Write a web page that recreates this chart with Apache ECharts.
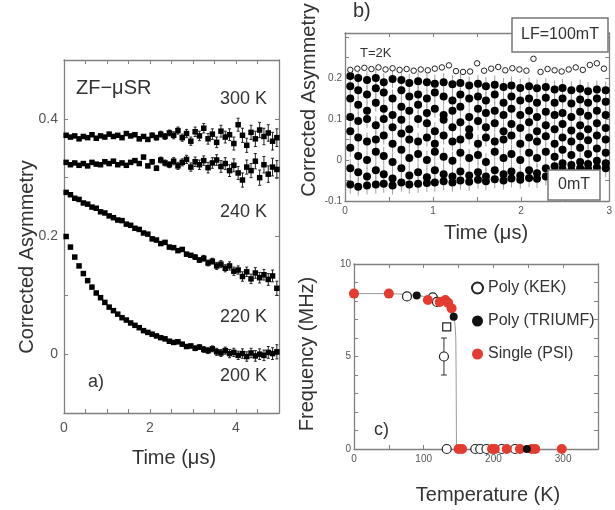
<!DOCTYPE html>
<html><head><meta charset="utf-8">
<script src="https://cdn.jsdelivr.net/npm/echarts@6/dist/echarts.min.js"></script>
<style>html,body{margin:0;padding:0;background:#fff}#c{width:615px;height:510px}</style>
</head><body><div id="c"></div>
<script>
// ---------- Panel a) ZF-muSR asymmetry vs time ----------
const timeA = [0.05,0.15,0.25,0.35,0.45,0.55,0.65,0.75,0.85,0.95,1.05,1.15,1.25,1.35,1.45,1.55,1.65,1.75,1.85,1.95,2.05,2.15,2.25,2.35,2.45,2.55,2.65,2.75,2.85,2.95,3.05,3.15,3.25,3.35,3.45,3.55,3.65,3.75,3.85,3.95,4.05,4.15,4.25,4.35,4.45,4.55,4.65,4.75,4.85,4.95];
const asym300K = [0.372,0.369,0.371,0.366,0.370,0.368,0.373,0.367,0.371,0.369,0.374,0.370,0.372,0.368,0.375,0.371,0.373,0.366,0.370,0.365,0.372,0.368,0.374,0.370,0.376,0.372,0.380,0.368,0.375,0.362,0.378,0.371,0.384,0.366,0.374,0.360,0.379,0.369,0.373,0.358,0.390,0.372,0.355,0.377,0.366,0.381,0.370,0.376,0.362,0.368];
const asym240K = [0.326,0.322,0.325,0.321,0.324,0.320,0.326,0.323,0.322,0.327,0.324,0.328,0.322,0.325,0.321,0.326,0.329,0.324,0.335,0.320,0.327,0.316,0.330,0.325,0.322,0.328,0.320,0.326,0.331,0.318,0.327,0.322,0.329,0.317,0.325,0.330,0.319,0.324,0.312,0.321,0.308,0.296,0.318,0.312,0.328,0.300,0.322,0.306,0.318,0.314];
const asym220K = [0.275,0.271,0.265,0.263,0.257,0.255,0.250,0.248,0.242,0.240,0.235,0.232,0.228,0.227,0.221,0.219,0.214,0.212,0.206,0.204,0.196,0.194,0.188,0.190,0.182,0.181,0.176,0.178,0.170,0.168,0.165,0.160,0.163,0.155,0.158,0.150,0.153,0.146,0.150,0.141,0.143,0.132,0.140,0.128,0.138,0.130,0.135,0.127,0.133,0.112];
const asym200K = [0.200,0.182,0.165,0.150,0.137,0.125,0.114,0.104,0.096,0.088,0.080,0.074,0.068,0.062,0.058,0.053,0.049,0.045,0.040,0.037,0.034,0.031,0.028,0.026,0.022,0.020,0.021,0.017,0.013,0.014,0.010,0.012,0.008,0.006,0.009,0.004,0.002,0.006,0.001,0.003,-0.002,0.001,-0.004,0.002,-0.003,0.000,-0.002,0.003,0.001,0.004];
const errHighT = [0.002,0.002,0.002,0.002,0.002,0.002,0.002,0.002,0.002,0.002,0.003,0.003,0.003,0.003,0.003,0.003,0.003,0.003,0.003,0.003,0.004,0.004,0.005,0.005,0.005,0.006,0.006,0.006,0.007,0.007,0.008,0.008,0.008,0.009,0.009,0.009,0.010,0.010,0.010,0.011,0.011,0.012,0.012,0.012,0.013,0.013,0.014,0.014,0.015,0.015];
const errLowT = [0.002,0.002,0.002,0.002,0.002,0.002,0.002,0.002,0.002,0.002,0.002,0.002,0.002,0.002,0.002,0.002,0.002,0.002,0.002,0.002,0.003,0.003,0.003,0.003,0.003,0.003,0.003,0.003,0.003,0.003,0.004,0.004,0.005,0.005,0.005,0.006,0.006,0.006,0.007,0.007,0.007,0.008,0.008,0.008,0.009,0.009,0.009,0.010,0.010,0.012];

// ---------- Panel b) T=2K, LF=100mT and 0mT ----------
const timeLF = [0.06,0.14,0.22,0.30,0.38,0.46,0.54,0.62,0.70,0.78,0.86,0.94,1.02,1.10,1.18,1.26,1.34,1.42,1.50,1.58,1.66,1.74,1.82,1.90,1.98,2.06,2.14,2.22,2.30,2.38,2.46,2.54,2.62,2.70,2.78,2.86,2.94];
const asymLF = [0.220,0.223,0.225,0.222,0.226,0.221,0.224,0.220,0.222,0.218,0.221,0.219,0.223,0.226,0.231,0.217,0.215,0.216,0.236,0.218,0.223,0.227,0.219,0.224,0.221,0.218,0.247,0.215,0.222,0.219,0.216,0.221,0.226,0.220,0.232,0.236,0.223];
const timeZF = [0.06,0.15,0.25,0.35,0.44,0.54,0.64,0.73,0.83,0.93,1.02,1.12,1.22,1.31,1.41,1.51,1.60,1.70,1.80,1.89,1.99,2.09,2.18,2.28,2.38,2.47,2.57,2.67,2.76,2.86,2.96];
const asymZF = [
 [0.205,0.180,0.150,0.105,0.070,0.030,-0.020,-0.060],
 [0.200,0.170,0.135,0.095,0.055,0.010,-0.030,-0.065],
 [0.195,0.160,0.120,0.100,0.045,0.000,-0.040,-0.062],
 [0.200,0.175,0.140,0.085,0.050,0.020,-0.025,-0.060],
 [0.190,0.165,0.125,0.100,0.060,0.010,-0.035,-0.058],
 [0.198,0.150,0.110,0.080,0.040,-0.005,-0.045,-0.062],
 [0.195,0.170,0.130,0.098,0.065,0.025,-0.020,-0.055],
 [0.188,0.155,0.120,0.075,0.050,0.005,-0.038,-0.060],
 [0.192,0.160,0.135,0.100,0.045,0.015,-0.030,-0.058],
 [0.190,0.150,0.115,0.090,0.055,0.000,-0.042,-0.056],
 [0.186,0.165,0.125,0.070,0.040,0.020,-0.025,-0.055],
 [0.190,0.155,0.110,0.098,0.060,0.008,-0.035,-0.052],
 [0.185,0.145,0.120,0.080,0.045,-0.002,-0.040,-0.055],
 [0.188,0.160,0.130,0.092,0.050,0.018,-0.028,-0.050],
 [0.182,0.150,0.105,0.075,0.060,0.005,-0.038,-0.053],
 [0.186,0.155,0.125,0.095,0.040,0.012,-0.030,-0.048],
 [0.180,0.145,0.115,0.080,0.055,-0.005,-0.040,-0.052],
 [0.184,0.160,0.120,0.090,0.045,0.020,-0.025,-0.047],
 [0.178,0.140,0.110,0.070,0.050,0.005,-0.035,-0.050],
 [0.182,0.155,0.125,0.088,0.060,0.015,-0.028,-0.045],
 [0.176,0.145,0.110,0.078,0.040,0.000,-0.038,-0.048],
 [0.180,0.150,0.120,0.092,0.055,0.018,-0.025,-0.044],
 [0.175,0.140,0.105,0.070,0.045,0.005,-0.032,-0.046],
 [0.178,0.152,0.118,0.085,0.058,0.020,-0.020,-0.040],
 [0.172,0.140,0.110,0.075,0.040,0.008,-0.015,-0.030],
 [0.176,0.150,0.115,0.088,0.055,0.025,-0.008,-0.022],
 [0.170,0.138,0.105,0.072,0.045,0.012,-0.012,-0.025],
 [0.174,0.148,0.118,0.085,0.058,0.030,-0.005,-0.020],
 [0.168,0.140,0.108,0.075,0.048,0.015,-0.010,-0.022],
 [0.172,0.150,0.120,0.090,0.060,0.028,-0.002,-0.018],
 [0.170,0.142,0.110,0.078,0.050,0.018,-0.008,-0.020]
];
const errZF = 0.022;

// ---------- Panel c) frequency vs temperature ----------
const kekT = [76,113,119,129,174,181,190,212,231,133];
const kekF = [8.25,8.2,7.95,5.0,0,0,0,0,0,0];
const kekErr = [0,0,0,1.0,0,0,0,0,0,0];
const kekSquareT = [133];
const kekSquareF = [6.6];
const triumfT = [90,143,248];
const triumfF = [8.3,7.15,0];
const psiT = [0,50,106,123,131,135,140,150,155,198,202,219,238,255,260,298];
const psiF = [8.4,8.4,8.05,7.95,8.05,7.9,7.6,0,0,0,0,0,0,0,0,0];
const fitT = [0,50,80,100,115,125,132,137,141,143.5,145,146,146.5,147];
const fitF = [8.4,8.4,8.35,8.25,8.1,7.95,7.8,7.6,7.35,7.1,6.7,6.0,4.0,0];

// ---------- build ----------
const FONT = '"Liberation Sans", Arial, Helvetica, sans-serif';
const AXC = '#808080';
function ax(grid, pos, min, max, interval, fmt, size, margin) {
  return {
    type: 'value', gridIndex: grid, position: pos, min: min, max: max, interval: interval,
    axisLine: {show: true, onZero: false, lineStyle: {color: AXC, width: 1.3}},
    axisTick: {show: true, inside: true, length: 4, lineStyle: {color: AXC, width: 1}},
    axisLabel: fmt ? {show: true, formatter: fmt, fontSize: size, color: '#555', margin: margin, fontFamily: FONT} : {show: false},
    splitLine: {show: false}
  };
}
const fmtAx = v => (Math.abs(v % 2) < 1e-6 ? String(v) : '');
const fmtAy = v => { const r = Math.round(v * 10); return r === 0 ? '0' : (r === 2 ? '0.2' : (r === 4 ? '0.4' : '')); };
const fmtBx = v => (Math.abs(v - Math.round(v)) < 1e-6 ? String(Math.round(v)) : '');
const fmtBy = v => { const r = Math.round(v * 100); if (r % 10 !== 0 || r === 30) return ''; return r === 0 ? '0' : (r / 100).toFixed(1); };
const fmtCx = v => (v % 100 === 0 ? String(v) : '');
const fmtCy = v => (v % 5 === 0 ? String(v) : '');

function errRender(color, cap) {
  return function (params, api) {
    const x = api.value(0), lo = api.value(1), hi = api.value(2);
    const a = api.coord([x, lo]), b = api.coord([x, hi]);
    const st = {stroke: color, lineWidth: 1};
    const ch = [{type: 'line', shape: {x1: a[0], y1: a[1], x2: b[0], y2: b[1]}, style: st}];
    if (cap) {
      ch.push({type: 'line', shape: {x1: a[0] - cap, y1: a[1], x2: a[0] + cap, y2: a[1]}, style: st});
      ch.push({type: 'line', shape: {x1: b[0] - cap, y1: b[1], x2: b[0] + cap, y2: b[1]}, style: st});
    }
    return {type: 'group', children: ch};
  };
}
function errData(ts, vs, es) { return ts.map((t, i) => [t, vs[i] - es[i], vs[i] + es[i]]); }
function pts(ts, vs) { return ts.map((t, i) => [t, vs[i]]); }

const seriesA = [];
[[asym300K, errHighT], [asym240K, errHighT], [asym220K, errLowT], [asym200K, errLowT]].forEach(([vals, errs]) => {
  seriesA.push({type: 'custom', xAxisIndex: 0, yAxisIndex: 0, renderItem: errRender('#222', 1.5), data: errData(timeA, vals, errs), encode: {x: 0, y: [1, 2]}, z: 2});
  seriesA.push({type: 'scatter', xAxisIndex: 0, yAxisIndex: 0, symbol: 'rect', symbolSize: 5.5, itemStyle: {color: '#000', opacity: 1}, data: pts(timeA, vals), z: 3});
});

const zfPts = [], zfErr = [];
timeZF.forEach((t, k) => asymZF[k].forEach(v => { zfPts.push([t, v]); zfErr.push([t, v - errZF, v + errZF]); }));

const seriesB = [
  {type: 'custom', xAxisIndex: 2, yAxisIndex: 2, renderItem: errRender('#a0a0a0', 0), data: zfErr, encode: {x: 0, y: [1, 2]}, z: 2},
  {type: 'scatter', xAxisIndex: 2, yAxisIndex: 2, symbol: 'circle', symbolSize: 8, itemStyle: {color: '#000', opacity: 1}, data: zfPts, z: 3},
  {type: 'scatter', xAxisIndex: 2, yAxisIndex: 2, symbol: 'circle', symbolSize: 5.5, itemStyle: {color: '#fff', borderColor: '#222', borderWidth: 1, opacity: 1}, data: pts(timeLF, asymLF), z: 4}
];

const seriesC = [
  {type: 'line', xAxisIndex: 4, yAxisIndex: 4, data: pts(fitT, fitF), showSymbol: false, symbol: 'none', lineStyle: {color: '#9a9a9a', width: 1}, z: 1, silent: true},
  {type: 'custom', xAxisIndex: 4, yAxisIndex: 4, renderItem: errRender('#333', 3), data: errData(kekT, kekF, kekErr).filter((d, i) => kekErr[i] > 0), encode: {x: 0, y: [1, 2]}, z: 2},
  {name: 'Poly (KEK)', type: 'scatter', xAxisIndex: 4, yAxisIndex: 4, symbol: 'circle', symbolSize: 9, itemStyle: {color: '#fff', borderColor: '#222', borderWidth: 1.2, opacity: 1}, data: pts(kekT, kekF), z: 3},
  {type: 'scatter', xAxisIndex: 4, yAxisIndex: 4, symbol: 'rect', symbolSize: 8, itemStyle: {color: '#fff', borderColor: '#222', borderWidth: 1.2, opacity: 1}, data: pts(kekSquareT, kekSquareF), z: 3},
  {name: 'Single (PSI)', type: 'scatter', xAxisIndex: 4, yAxisIndex: 4, symbol: 'circle', symbolSize: 10, itemStyle: {color: '#e53a2f', opacity: 1}, data: pts(psiT, psiF), z: 4},
  {name: 'Poly (TRIUMF)', type: 'scatter', xAxisIndex: 4, yAxisIndex: 4, symbol: 'circle', symbolSize: 8, itemStyle: {color: '#111', opacity: 1}, data: pts(triumfT, triumfF), z: 5}
];

function txt(x, y, s, size, opts) {
  return Object.assign({type: 'text', x: x, y: y, z: 100, style: Object.assign({text: s, font: size + 'px ' + FONT, fill: '#333', textAlign: 'left', textVerticalAlign: 'middle'}, opts || {})});
}
function vtxt(x, y, s, size) {
  return {type: 'text', x: x, y: y, rotation: Math.PI / 2, z: 100, style: {text: s, font: size + 'px ' + FONT, fill: '#333', textAlign: 'center', textVerticalAlign: 'middle'}};
}

const chart = echarts.init(document.getElementById('c'), null, {renderer: 'canvas'});
chart.setOption({
  animation: false,
  backgroundColor: '#fff',
  grid: [
    {left: 64, top: 60, width: 215, height: 353},
    {left: 345, top: 33, width: 265, height: 168},
    {left: 354, top: 264, width: 244, height: 185}
  ],
  xAxis: [
    ax(0, 'bottom', 0, 5, 0.5, fmtAx, 14, 8), ax(0, 'top', 0, 5, 0.5, null),
    ax(1, 'bottom', 0, 3, 0.5, fmtBx, 10, 5), ax(1, 'top', 0, 3, 0.5, null),
    ax(2, 'bottom', 0, 350, 50, fmtCx, 10, 5), ax(2, 'top', 0, 350, 50, null)
  ],
  yAxis: [
    ax(0, 'left', -0.1, 0.5, 0.1, fmtAy, 14, 6), ax(0, 'right', -0.1, 0.5, 0.1, null),
    ax(1, 'left', -0.1, 0.31, 0.05, fmtBy, 10, 3), ax(1, 'right', -0.1, 0.31, 0.05, null),
    ax(2, 'left', 0, 10, 1, fmtCy, 10, 3), ax(2, 'right', 0, 10, 1, null)
  ],
  legend: {
    data: ['Poly (KEK)', 'Poly (TRIUMF)', 'Single (PSI)'],
    orient: 'vertical', left: 466, top: 275, itemGap: 17, itemWidth: 11, itemHeight: 11,
    textStyle: {fontSize: 16, color: '#333', fontFamily: FONT}
  },
  series: seriesA.concat(seriesB, seriesC),
  graphic: [
    vtxt(27, 257, 'Corrected Asymmetry', 20),
    txt(174, 458, 'Time (μs)', 20, {textAlign: 'center'}),
    txt(76, 88, 'ZF−μSR', 20),
    txt(267, 99, '300 K', 18, {textAlign: 'right'}),
    txt(267, 212, '240 K', 18, {textAlign: 'right'}),
    txt(267, 317, '220 K', 18, {textAlign: 'right'}),
    txt(267, 376, '200 K', 18, {textAlign: 'right'}),
    txt(88, 382, 'a)', 18),
    vtxt(309, 100, 'Corrected Asymmetry', 20),
    txt(486, 233, 'Time (μs)', 20, {textAlign: 'center'}),
    txt(353, 11, 'b)', 20),
    txt(360, 53, 'T=2K', 13),
    {type: 'rect', z: 99, shape: {x: 512, y: 18, width: 96, height: 34}, style: {fill: '#fff', stroke: '#777', lineWidth: 1.5}},
    txt(560, 35, 'LF=100mT', 16, {textAlign: 'center'}),
    {type: 'rect', z: 99, shape: {x: 548, y: 170, width: 52, height: 30}, style: {fill: '#fff', stroke: '#777', lineWidth: 1.5}},
    txt(574, 185, '0mT', 16, {textAlign: 'center'}),
    vtxt(307, 354, 'Frequency (MHz)', 20),
    txt(488, 495, 'Temperature (K)', 20, {textAlign: 'center'}),
    txt(374, 430, 'c)', 18)
  ]
});
</script></body></html>
